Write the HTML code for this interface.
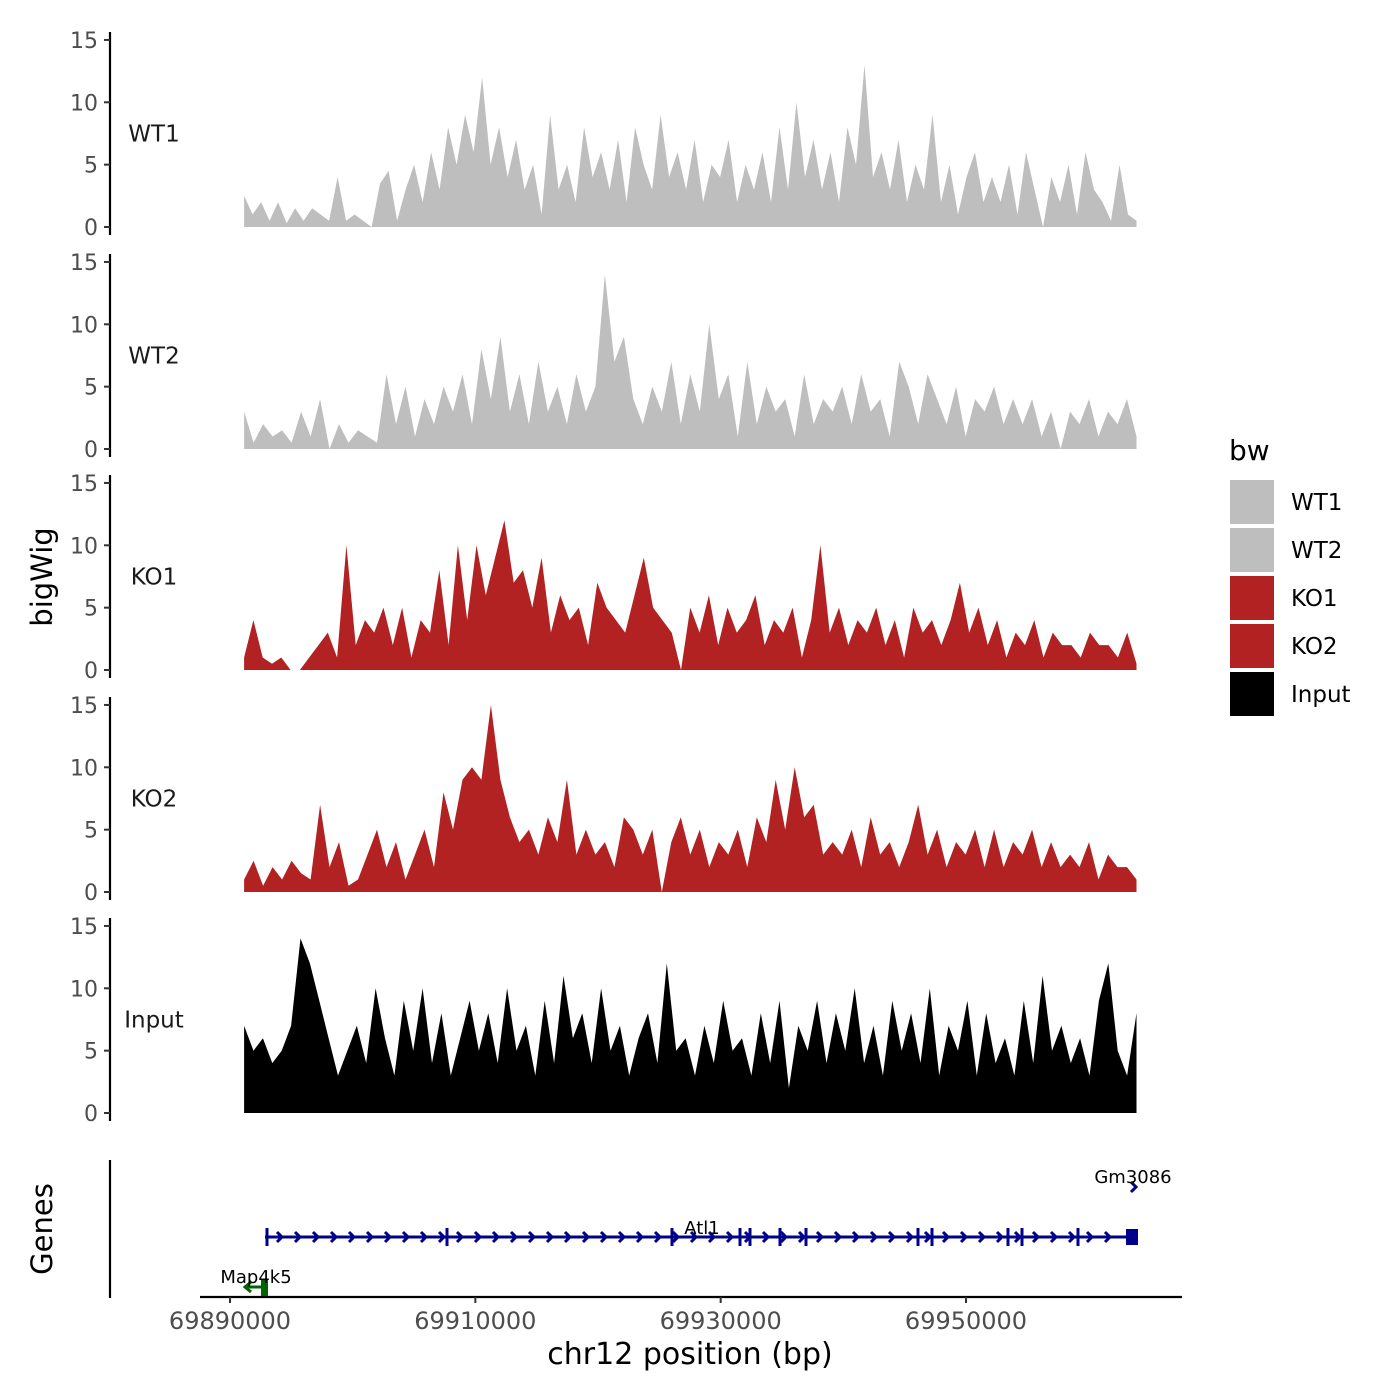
<!DOCTYPE html>
<html><head><meta charset="utf-8">
<style>
body{margin:0;background:#fff;}
svg{display:block;font-family:"DejaVu Sans","Liberation Sans",sans-serif;}
</style></head>
<body>
<svg id="chart" width="1400" height="1400" viewBox="0 0 1400 1400"></svg>
<script>
const trackNames = ["WT1","WT2","KO1","KO2","Input"];
const trackColors = ["#BEBEBE","#BEBEBE","#B22222","#B22222","#000000"];
const xStart = 69891150, xEnd = 69963900;
const yTicks = [0,5,10,15];
const xTicks = [69890000,69910000,69930000,69950000];
const xTickLabels = ["69890000","69910000","69930000","69950000"];
const wt1 = [2.5,1,2,0.5,2,0.3,1.5,0.5,1.5,1,0.5,4,0.5,1,0.5,0,3.5,4.5,0.5,3,5,2,6,3,8,5,9,6,12,5,8,4,7,3,5,1,9,3,5,2,8,4,6,3,7,2,8,5,3,9,4,6,3,7,2,5,4,7,2,5,3,6,2,8,3,10,4,7,3,6,2,8,5,13,4,6,3,7,2,5,3,9,2,5,1,4,6,2,4,2,5,1,6,3,0,4,2,5,1,6,3,2,0.5,5,1,0.5];
const wt2 = [3,0.5,2,1,1.5,0.5,3,1,4,0,2,0.5,1.5,1,0.5,6,2,5,1,4,2,5,3,6,2,8,4,9,3,6,2,7,3,5,2,6,3,5,14,7,9,4,2,5,3,7,2,6,3,10,4,6,1,7,2,5,3,4,1,6,2,4,3,5,2,6,3,4,1,7,5,2,6,4,2,5,1,4,3,5,2,4,2,4,1,3,0,3,2,4,1,3,2,4,1];
const ko1 = [1,4,1,0.5,1,0,0,1,2,3,1,10,2,4,3,5,2,5,1,4,3,8,2,10,4,10,6,9,12,7,8,5,9,3,6,4,5,2,7,5,4,3,6,9,5,4,3,0,5,3,6,2,5,3,4,6,2,4,3,5,1,4,10,3,5,2,4,3,5,2,4,1,5,3,4,2,4,7,3,5,2,4,1,3,2,4,1,3,2,2,1,3,2,2,1,3,0.5];
const ko2 = [1,2.5,0.5,2,1,2.5,1.5,1,7,2,4,0.5,1,3,5,2,4,1,3,5,2,8,5,9,10,9,15,9,6,4,5,3,6,4,9,3,5,3,4,2,6,5,3,5,0,4,6,3,5,2,4,3,5,2,6,4,9,5,10,6,7,3,4,3,5,2,6,3,4,2,4,7,3,5,2,4,3,5,2,5,2,4,3,5,2,4,2,3,2,4,1,3,2,2,1];
const input = [7,5,6,4,5,7,14,12,9,6,3,5,7,4,10,6,3,9,5,10,4,8,3,6,9,5,8,4,10,5,7,3,9,4,11,6,8,4,10,5,7,3,6,8,4,12,5,6,3,7,4,9,5,6,3,8,4,9,2,7,5,9,4,8,5,10,4,7,3,9,5,8,4,10,3,7,5,9,3,8,4,6,3,9,4,11,5,7,4,6,3,9,12,5,3,8];
const trackData = [wt1,wt2,ko1,ko2,input];
const genes = ["Atl1","Gm3086","Map4k5"];

const svg = document.getElementById('chart');
const NS = "http://www.w3.org/2000/svg";
function mk(tag, attrs, parent){const e=document.createElementNS(NS,tag);for(const k in attrs)e.setAttribute(k,attrs[k]);(parent||svg).appendChild(e);return e;}
const xScale = bp => 230 + (bp - 69890000) * (736/60000);
const zeroY = [227,449,670,892,1113];
const yScale = (t,v) => zeroY[t] - v * 12.47;

trackData.forEach((vals,t)=>{
  const g = mk('g',{});
  
  
  const step = (xEnd - xStart)/(vals.length-1);
  let d = `M${xScale(xStart)},${zeroY[t]}`;
  vals.forEach((v,i)=>{ d += ` L${xScale(xStart+i*step).toFixed(1)},${yScale(t,v).toFixed(1)}`; });
  d += ` L${xScale(xEnd)},${zeroY[t]} Z`;
  const p = mk('path',{d:d,fill:trackColors[t]},g);
  
  
  const ax = mk('line',{x1:110,x2:110,y1:yScale(t,15)-8,y2:zeroY[t]+8,stroke:'#000','stroke-width':2.2},g);
  
  
  yTicks.forEach(v=>{
    mk('line',{x1:104,x2:110,y1:yScale(t,v),y2:yScale(t,v),stroke:'#333','stroke-width':2},g);
    const tx = mk('text',{x:98,y:yScale(t,v)+8,'text-anchor':'end','font-size':22,fill:'#4d4d4d'},g);
    tx.textContent = v;
    
    
  });
  const lb = mk('text',{x:154,y:yScale(t,7.5)+8,'text-anchor':'middle','font-size':23,fill:'#1a1a1a'},g);
  lb.textContent = trackNames[t];
  
  
});

const yt = mk('text',{x:0,y:0,transform:'translate(52,577) rotate(-90)','text-anchor':'middle','font-size':29,fill:'#000'});
yt.textContent='bigWig';


const gt = mk('text',{x:0,y:0,transform:'translate(52,1229) rotate(-90)','text-anchor':'middle','font-size':29,fill:'#000'});
gt.textContent='Genes';



const gp = mk('g',{});


mk('line',{x1:110,x2:110,y1:1160,y2:1298,stroke:'#000','stroke-width':2.2},gp);
mk('line',{x1:200,x2:1182,y1:1297,y2:1297,stroke:'#000','stroke-width':2.2},gp);
xTicks.forEach((b,i)=>{
  mk('line',{x1:xScale(b),x2:xScale(b),y1:1297,y2:1303,stroke:'#333','stroke-width':2},gp);
  const tx = mk('text',{x:xScale(b),y:1329,'text-anchor':'middle','font-size':24,fill:'#4d4d4d'},gp);
  tx.textContent = xTickLabels[i];
  
  
});
const xt = mk('text',{x:690,y:1364,'text-anchor':'middle','font-size':30,fill:'#000'});
xt.textContent='chr12 position (bp)';



const blue='#00008B';
const atl = mk('g',{},gp);


mk('line',{x1:265,x2:1135,y1:1237,y2:1237,stroke:blue,'stroke-width':3},atl);
for(let x=280;x<1125;x+=18){mk('path',{d:`M${x-3},${1232} L${x+2},${1237} L${x-3},${1242}`,fill:'none',stroke:blue,'stroke-width':3},atl);}
[267,447,672,740,750,780,806,918,932,1008,1022,1078].forEach(x=>mk('line',{x1:x,x2:x,y1:1228,y2:1246,stroke:blue,'stroke-width':3},atl));
mk('rect',{x:1126,y:1229,width:12,height:16,fill:blue},atl);
const al = mk('text',{x:702,y:1234,'text-anchor':'middle','font-size':18,fill:'#000'},atl);
al.textContent=genes[0];
const gm = mk('g',{},gp);


mk('path',{d:'M1131,1182 L1136,1187 L1131,1192',fill:'none',stroke:blue,'stroke-width':3},gm);
const gl = mk('text',{x:1133,y:1183,'text-anchor':'middle','font-size':18,fill:'#000'},gm);
gl.textContent=genes[1];
const mp = mk('g',{},gp);


const green='#006400';
mk('line',{x1:246,x2:265,y1:1287,y2:1287,stroke:green,'stroke-width':3},mp);
mk('path',{d:'M251,1282 L245,1287 L251,1292',fill:'none',stroke:green,'stroke-width':3},mp);
mk('rect',{x:261,y:1279,width:7,height:17,fill:green},mp);
const ml = mk('text',{x:256,y:1283,'text-anchor':'middle','font-size':18,fill:'#000'},mp);
ml.textContent=genes[2];

const lg = mk('g',{});


const lt = mk('text',{x:1229,y:460,'font-size':28,fill:'#000'},lg);
lt.textContent='bw';
trackNames.forEach((n,i)=>{
  const e = mk('g',{},lg);
  
  
  mk('rect',{x:1230,y:480+i*48,width:44,height:44,fill:trackColors[i]},e);
  const t = mk('text',{x:1291,y:510+i*48,'font-size':23,fill:'#000'},e);
  t.textContent=n;
});
</script>
</body></html>
